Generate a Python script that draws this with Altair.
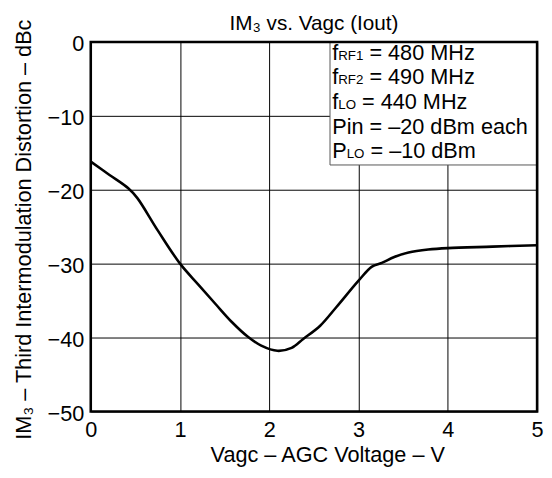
import altair as alt
import pandas as pd

# curve data
vagc = [0.0, 0.21, 0.42, 0.52, 0.75, 1.0, 1.21, 1.40, 1.58, 1.76, 1.91, 2.09,
        2.25, 2.38, 2.57, 2.75, 3.0, 3.15, 3.26, 3.40, 3.56, 3.78, 4.0, 4.5, 5.0]
im3 = [-16.2, -18.0, -19.8, -21.1, -25.5, -30.0, -32.9, -35.5, -37.9, -39.9, -41.1, -41.8,
       -41.4, -40.2, -38.4, -35.9, -32.3, -30.4, -29.9, -29.1, -28.5, -28.1, -27.9, -27.7, -27.5]

x_ticks = [0, 1, 2, 3, 4, 5]
y_ticks = [-50, -40, -30, -20, -10, 0]

chart_title = "IM\u2083 vs. Vagc (Iout)"
title_pos = {"x": 2.5, "y": 1.6}

# annotation text: (main, subscript, rest)
note_lines = [
    ("f", "RF1", "= 480 MHz"),
    ("f", "RF2", "= 490 MHz"),
    ("f", "LO", "= 440 MHz"),
    ("Pin = \u201320 dBm each", "", ""),
    ("P", "LO", "= \u201310 dBm"),
]
note_y = [-2.4, -5.73, -9.07, -12.4, -15.73]
note_x = 2.705
box = dict(x=2.68, x2=5.0, y=0.0, y2=-16.65)

FONT = "Liberation Sans"
MAIN = 22
SUB = 13.5
W, H = 453, 375

df = pd.DataFrame({"v": vagc, "im3": im3})

xs = alt.Scale(domain=[0, 5], nice=False, zero=False)
ys = alt.Scale(domain=[-50, 0], nice=False, zero=False)

base = alt.Chart(df)

curve = base.mark_line(color="black", strokeWidth=2.6, interpolate="catmull-rom").encode(
    x=alt.X("v:Q", scale=xs, axis=alt.Axis(
        values=x_ticks, format="d", grid=True, gridColor="black", gridWidth=1, gridOpacity=1,
        domain=False, ticks=False, labelFontSize=MAIN, labelFont=FONT, labelColor="black",
        labelPadding=8, labelFlush=False,
        title="Vagc \u2013 AGC Voltage \u2013 V", titleFont=FONT, titleFontSize=MAIN,
        titleFontWeight="normal", titleColor="black",
        titleX=240, titleY=51, titleBaseline="alphabetic", titleAlign="center")),
    y=alt.Y("im3:Q", scale=ys, axis=alt.Axis(
        values=y_ticks, grid=True, gridColor="black", gridWidth=1, gridOpacity=1,
        domain=False, ticks=False, labelFontSize=MAIN, labelFont=FONT, labelColor="black",
        labelPadding=7, labelFlush=False, labelOffset=2,
        title="IM\u2083 \u2013 Third Intermodulation Distortion \u2013 dBc", titleFont=FONT,
        titleFontSize=MAIN, titleFontWeight="normal", titleColor="black",
        titleAngle=-90, titleX=-61, titleY=190, titleBaseline="alphabetic",
        titleAlign="center")),
)

box_df = pd.DataFrame([box])
box_mark = alt.Chart(box_df).mark_rect(fill="white", stroke="#555555", strokeWidth=1).encode(
    x=alt.X("x:Q", scale=xs), x2="x2:Q", y=alt.Y("y:Q", scale=ys), y2="y2:Q")

frame_df = pd.DataFrame([{"x": 0, "x2": 5, "y": -50, "y2": 0}])
frame = alt.Chart(frame_df).mark_rect(fill="transparent", stroke="black", strokeWidth=2.6).encode(
    x=alt.X("x:Q", scale=xs), x2="x2:Q", y=alt.Y("y:Q", scale=ys), y2="y2:Q")

title_mark = alt.Chart(pd.DataFrame([title_pos])).mark_text(
    text=chart_title, font=FONT, fontSize=21, align="center", baseline="alphabetic",
    color="black").encode(x=alt.X("x:Q", scale=xs), y=alt.Y("y:Q", scale=ys))

layers = [curve, box_mark]
first_w = {"f": 0.278, "P": 0.667}
sub_w = {"RF1": 1.889, "RF2": 1.889, "LO": 1.334}
SPACE = 0.278
for (main, sub, rest), yy in zip(note_lines, note_y):
    d = pd.DataFrame({"x": [note_x], "y": [yy]})
    layers.append(alt.Chart(d).mark_text(text=main, font=FONT, fontSize=MAIN, align="left",
                                         baseline="alphabetic", color="black").encode(
        x=alt.X("x:Q", scale=xs), y=alt.Y("y:Q", scale=ys)))
    if sub:
        dx1 = first_w[main] * MAIN
        layers.append(alt.Chart(d).mark_text(text=sub, font=FONT, fontSize=SUB, align="left",
                                             baseline="alphabetic", color="black", dx=dx1).encode(
            x=alt.X("x:Q", scale=xs), y=alt.Y("y:Q", scale=ys)))
        dx2 = dx1 + sub_w[sub] * SUB + SPACE * MAIN
        layers.append(alt.Chart(d).mark_text(text=rest, font=FONT, fontSize=MAIN, align="left",
                                             baseline="alphabetic", color="black", dx=dx2).encode(
            x=alt.X("x:Q", scale=xs), y=alt.Y("y:Q", scale=ys)))
layers.append(frame)
layers.append(title_mark)

chart = alt.layer(*layers).properties(
    width=W, height=H,
    autosize=alt.AutoSizeParams(type="none"),
    padding={"left": 84, "top": 31, "right": 7, "bottom": 56},
).configure_view(stroke=None).configure(background="white")

chart.save("out.html", embed_options={"renderer": "svg", "actions": False})
